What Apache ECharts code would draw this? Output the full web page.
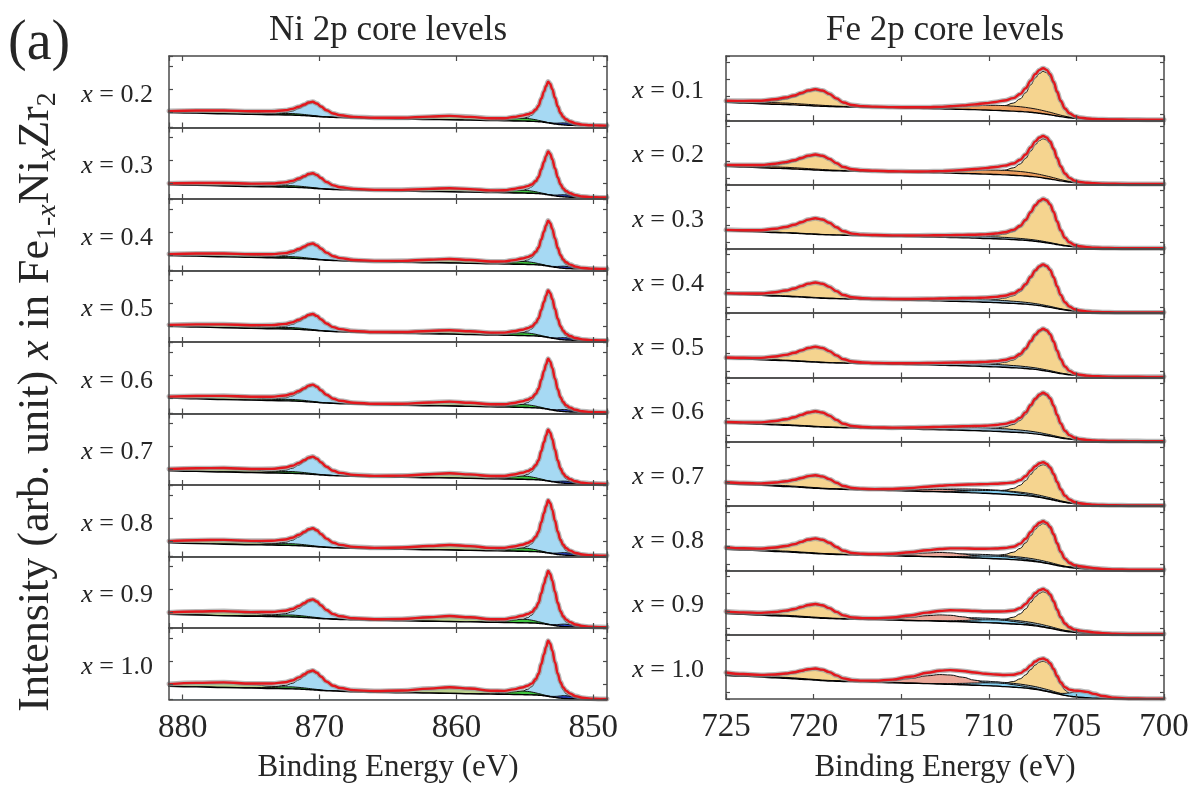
<!DOCTYPE html>
<html><head><meta charset="utf-8">
<script src="https://cdn.jsdelivr.net/npm/echarts@6/dist/echarts.min.js"></script>
<style>html,body{margin:0;padding:0;background:#fff}#c{width:1192px;height:787px}</style>
</head><body><div id="c"></div>
<script>
// ---------------- Ni 2p data (intensity in % of panel height) ----------------
const niE = [881,879,877,875,873.5,872.5,872,871.5,871.1,870.8, 870.5,870.2,869.9,869.5,869,868.5,867.5,866,864,862, 860.5,859,857.5,856.5,855.8,855.2,854.8,854.5,854.2,854, 853.8,853.6,853.45,853.3,853.15,853,852.8,852.6,852.4,852.2, 852,851.7,851.3,850.8,850.2,849.5,849];
const niBgShape = [1,.95,.9,.86,.83,.81,.8,.78,.76,.74, .72,.7,.675,.65,.63,.61,.58,.54,.5,.47, .45,.42,.39,.375,.36,.35,.34,.33,.32,.305, .29,.265,.24,.215,.19,.165,.135,.105,.08,.06, .045,.03,.02,.012,.006,.002,0];
const niBlueShape = [.003,.005,.008,.013,.03,.06,.1,.17,.24,.3, .33,.3,.24,.16,.09,.055,.025,.012,.008,.007, .008,.01,.015,.022,.035,.06,.1,.15,.25,.36, .55,.74,.88,1,.95,.83,.62,.41,.25,.15, .09,.05,.025,.012,.006,.003,.002];
const niGreenShape = [0,.02,.05,.12,.3,.52,.55,.48,.4,.33, .26,.2,.15,.1,.05,.03,.01,0,0,0, 0,.01,.05,.3,.75,1,.95,.8,.6,.45, .33,.22,.16,.11,.07,.05,.03,.015,0,0, 0,0,0,0,0,0,0];
const niOliveShape = [.35,.65,.8,.6,.38,.22,.16,.11,.08,.06, .05,.04,.03,.025,.02,.02,.03,.08,.3,.72, 1,.8,.42,.2,.1,.05,.03,.02,.01,.005, 0,0,0,0,0,0,0,0,0,0, 0,0,0,0,0,0,0];
const niDkBlueShape = [0,0,0,0,0,0,0,0,0,0, 0,0,0,0,0,0,0,0,0,0, 0,0,0,0,0,0,0,0,0,0, .02,.04,.07,.1,.15,.22,.35,.55,.78,.95, 1,.85,.5,.2,.05,.01,0];
const niX = ['0.2','0.3','0.4','0.5','0.6','0.7','0.8','0.9','1.0'];
const niBgLeft = [21,20,21,22,21.5,20,19,19,18.5];
const niBgRight = [2.5,2,2,2,1.5,1.5,1,1,0.5];
const niMain = [57,60,63,65,70,71,73,74,77];
const niGreen = [4,4,4,4,4,4.5,4.5,5,5];
const niOlive = [5,4.5,5,5,5.5,6,6.5,7,8];
const niDkBlue = [3,3,3,3,3,3,3.5,3.5,4];
const niTicks = [880,870,860,850];

// ---------------- Fe 2p data ----------------
const feE = [725,724,723,722.2,721.6,721.1,720.7,720.3,719.9,719.5, 719.1,718.7,718.3,717.8,717.2,716.5,715.5,714.5,713.5,712.8, 712.2,711.5,710.8,710.2,709.6,709.1,708.6,708.2,707.9,707.6, 707.35,707.1,706.9,706.7,706.5,706.3,706.1,705.9,705.65,705.4, 705.1,704.8,704.4,704,703.5,702.8,702,701,700];
const feBgShape = [1,.96,.92,.89,.87,.85,.83,.81,.79,.77, .755,.745,.735,.725,.715,.7,.68,.66,.64,.625, .61,.595,.575,.555,.535,.515,.49,.47,.45,.425, .4,.37,.34,.31,.28,.245,.21,.175,.14,.11, .08,.06,.04,.025,.015,.008,.003,.001,0];
const feTanShape = [.012,.02,.035,.08,.13,.19,.26,.33,.37,.35, .28,.18,.09,.04,.02,.015,.012,.012,.014,.016, .02,.026,.035,.05,.08,.12,.19,.3,.45,.65, .82,.94,1,.98,.9,.74,.53,.34,.18,.09, .04,.02,.01,.005,.002,0,0,0,0];
const feBrownShape = [.2,.25,.28,.3,.29,.27,.25,.23,.21,.19, .16,.13,.1,.07,.05,.04,.05,.08,.15,.25, .37,.55,.75,.9,.98,1,.97,.92,.87,.8, .74,.67,.61,.55,.49,.42,.35,.28,.2,.13, .07,.035,.015,.005,0,0,0,0,0];
const feSteelShape = [.1,.13,.17,.2,.2,.19,.17,.16,.15,.13, .12,.1,.09,.08,.08,.1,.18,.32,.52,.67, .8,.91,.98,1,.97,.92,.85,.78,.72,.66, .6,.55,.5,.45,.4,.34,.29,.24,.18,.13, .08,.05,.025,.012,.005,0,0,0,0];
const feCyanShape = [0,0,0,0,0,0,0,0,0,0, 0,0,0,0,0,0,0,.02,.06,.12, .22,.42,.68,.88,1,.96,.8,.62,.48,.35, .25,.18,.13,.09,.06,.04,.03,.02,.01,0, 0,0,0,0,0,0,0,0,0];
const fePinkShape = [.2,.1,.04,.01,0,0,0,0,0,0, 0,0,0,0,.03,.07,.2,.48,.82,.98, .97,.78,.52,.32,.17,.09,.04,.02,.01,0, 0,0,0,0,0,0,0,0,0,0, 0,0,0,0,0,0,0,0,0];
const feCyan2Shape = [0,0,0,0,0,0,0,0,0,0, 0,0,0,0,0,0,0,0,0,0, 0,0,0,0,0,0,0,0,0,0, 0,0,0,.02,.04,.07,.12,.2,.35,.55, .8,.97,.95,.7,.38,.12,.03,.005,0];
const feX = ['0.1','0.2','0.3','0.4','0.5','0.6','0.7','0.8','0.9','1.0'];
const feBgLeft = [28,28.5,28.5,30,30,29.5,35,33,33,37];
const feBgRight = [1,1,1,1,1,1,1,1,1,0.5];
const feTan = [66,61,66,63,63,63,52,61,55,46];
const feBrown = [8,7,0,0,0,0,0,0,0,0];
const feSteel = [0,0,3,4,4,5,6,6,7,7];
const feCyan = [0,0,0,0,0,0,5,4,5,5];
const fePink = [0,0,0,0,0,0,4,7,10,15];
const feCyan2 = [0,0,0,0,0,0,0,2,2,9];
const feTicks = [725,720,715,710,705,700];

// ---------------- build ----------------
const FONT = "'Liberation Serif','Times New Roman',Times,serif";
const TXT = '#262626';
const FRAME = '#4a4a4a';
const grids = [], xAxes = [], yAxes = [], series = [], graphics = [];

function lineSeries(xb, yd, E, vals, o) {
  const s = {type:'line', xAxisIndex:xb, yAxisIndex:yd, data:E.map((e,i)=>[e, vals[i]]),
    smooth:0.4, smoothMonotone:'x', symbol:'none', silent:true, animation:false, z:o.z,
    lineStyle:{color:o.lc, width:o.lw, opacity:o.op==null?1:o.op, join:'round', cap:'round'}};
  if (o.area) s.areaStyle = {color:o.area, opacity:1, origin:'start'};
  return s;
}

function addPanel(c) {
  const g = grids.length;
  grids.push({left:c.left, top:c.top, width:c.width, height:c.height, containLabel:false});
  const xCommon = {gridIndex:g, type:'value', inverse:true, min:c.xmin, max:c.xmax,
    splitNumber:c.xSplit, minInterval:c.xInt, maxInterval:c.xInt, z:20,
    axisLine:{show:true, onZero:false, lineStyle:{color:FRAME, width:1.5}},
    axisTick:{show:true, inside:true, length:5, lineStyle:{color:FRAME, width:1.2}},
    splitLine:{show:false}};
  const xb = xAxes.length;
  xAxes.push(Object.assign({}, xCommon, {position:'bottom',
    axisLabel:{show:c.last, margin:12, color:TXT, fontFamily:FONT, fontSize:33,
      showMinLabel:c.showEnds, showMaxLabel:c.showEnds,
      formatter:v => c.ticks.indexOf(v) >= 0 ? String(v) : ''},
    name:c.last ? 'Binding Energy (eV)' : '', nameLocation:'middle', nameGap:53,
    nameTextStyle:{color:TXT, fontFamily:FONT, fontSize:31}}));
  xAxes.push(Object.assign({}, xCommon, {position:'top', axisLabel:{show:false}}));
  const yd = yAxes.length;
  yAxes.push({gridIndex:g, type:'value', min:0, max:100, show:false});
  const yTick = {gridIndex:g, type:'value', min:-c.tOff, max:100-c.tOff, splitNumber:3,
    minInterval:c.tInt, maxInterval:c.tInt, z:20,
    axisLine:{show:true, onZero:false, lineStyle:{color:FRAME, width:1.5}},
    axisTick:{show:true, inside:true, length:4, lineStyle:{color:FRAME, width:1.2}},
    axisLabel:{show:false}, splitLine:{show:false}};
  yAxes.push(Object.assign({}, yTick, {position:'left'}));
  yAxes.push(Object.assign({}, yTick, {position:'right'}));

  const E = c.E;
  const bg = E.map((e,i) => c.bgRight + (c.bgLeft - c.bgRight) * c.bgShape[i]);
  const fit = bg.slice();
  c.comps.forEach((cp, k) => {
    if (!cp.amp) return;
    const vals = E.map((e,i) => bg[i] + cp.amp * cp.shape[i]);
    E.forEach((e,i) => { fit[i] += cp.amp * cp.shape[i]; });
    series.push(lineSeries(xb, yd, E, vals, {z:2+k, lc:'#111', lw:1, area:cp.color}));
  });
  series.push(lineSeries(xb, yd, E, bg, {z:10, lc:'#000', lw:1.4, area:'#ffffff'}));
  series.push(lineSeries(xb, yd, E, fit, {z:11, lc:'#9a9a9a', lw:5, op:0.7}));
  series.push(lineSeries(xb, yd, E, fit, {z:12, lc:'#e3171d', lw:2.4}));

  graphics.push({type:'text', x:c.labelX, y:c.top + c.height/2 + 3, silent:true,
    style:{text:'{i|x} = ' + c.label, align:'right', verticalAlign:'middle', fill:TXT,
      fontFamily:FONT, fontSize:26,
      rich:{i:{fontStyle:'italic', fontFamily:FONT, fontSize:26, fill:TXT}}}});
}

const niTop = 56, niH = 643.5 / niX.length;
niX.forEach((lab, p) => addPanel({
  left:169, top:niTop + p*niH, width:438, height:niH,
  xmin:849, xmax:881, xSplit:3, xInt:10, showEnds:false, ticks:niTicks, last:p === niX.length-1,
  E:niE, bgShape:niBgShape, bgLeft:niBgLeft[p], bgRight:niBgRight[p],
  comps:[
    {shape:niBlueShape, amp:niMain[p], color:'#a6d9f3'},
    {shape:niOliveShape, amp:niOlive[p], color:'#b9d08c'},
    {shape:niGreenShape, amp:niGreen[p], color:'#3fc43f'},
    {shape:niDkBlueShape, amp:niDkBlue[p], color:'#2742c4'}],
  tOff:22, tInt:32, label:lab, labelX:153}));

const feTop = 56, feH = 643 / feX.length;
feX.forEach((lab, p) => addPanel({
  left:726, top:feTop + p*feH, width:438, height:feH,
  xmin:700, xmax:725, xSplit:5, xInt:5, showEnds:true, ticks:feTicks, last:p === feX.length-1,
  E:feE, bgShape:feBgShape, bgLeft:feBgLeft[p], bgRight:feBgRight[p],
  comps:[
    {shape:feTanShape, amp:feTan[p], color:'#f5d48f'},
    {shape:feBrownShape, amp:feBrown[p], color:'#eb9e5e'},
    {shape:feSteelShape, amp:feSteel[p], color:'#8fb0c6'},
    {shape:fePinkShape, amp:fePink[p], color:'#eba899'},
    {shape:feCyanShape, amp:feCyan[p], color:'#86cff0'},
    {shape:feCyan2Shape, amp:feCyan2[p], color:'#86cff0'}],
  tOff:10, tInt:27, label:lab, labelX:704}));

graphics.push({type:'text', x:8, y:44, silent:true,
  style:{text:'(a)', align:'left', verticalAlign:'middle', fill:TXT, fontFamily:FONT, fontSize:56}});
graphics.push({type:'text', x:388, y:31, silent:true,
  style:{text:'Ni 2p core levels', align:'center', verticalAlign:'middle', fill:TXT, fontFamily:FONT, fontSize:35}});
graphics.push({type:'text', x:945, y:31, silent:true,
  style:{text:'Fe 2p core levels', align:'center', verticalAlign:'middle', fill:TXT, fontFamily:FONT, fontSize:35}});
graphics.push({type:'text', x:36, y:402, rotation:Math.PI/2, silent:true,
  style:{text:'{n|Intensity (arb. unit) }{i|x}{n| in Fe}{s|1-}{si|x}{n|Ni}{si|x}{n|Zr}{s|2}',
    align:'center', verticalAlign:'middle', fill:TXT, fontFamily:FONT, fontSize:44,
    rich:{
      n:{fontFamily:FONT, fontSize:44, lineHeight:52, verticalAlign:'middle', fill:TXT},
      i:{fontFamily:FONT, fontSize:44, lineHeight:52, verticalAlign:'middle', fontStyle:'italic', fill:TXT},
      s:{fontFamily:FONT, fontSize:28, lineHeight:24, verticalAlign:'bottom', fill:TXT},
      si:{fontFamily:FONT, fontSize:28, lineHeight:24, verticalAlign:'bottom', fontStyle:'italic', fill:TXT}}}});

const chart = echarts.init(document.getElementById('c'), null, {renderer:'canvas'});
chart.setOption({animation:false, backgroundColor:'#ffffff',
  grid:grids, xAxis:xAxes, yAxis:yAxes, series:series, graphic:{elements:graphics}});
</script></body></html>
